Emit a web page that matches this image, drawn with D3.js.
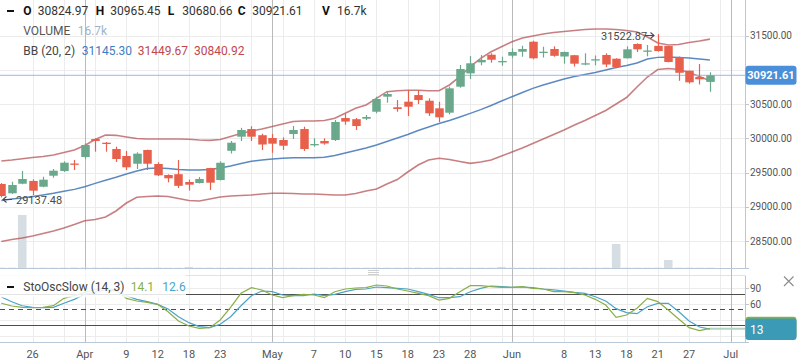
<!DOCTYPE html>
<html>
<head>
<meta charset="utf-8">
<script src="https://cdn.jsdelivr.net/npm/d3@7"></script>
<style>
body { margin: 0; background: #fff; }
svg { display: block; font-family: Roboto, "Open Sans", sans-serif; }
</style>
</head>
<body>
<svg width="798" height="363"></svg>
<script>
const dates = ["2017-03-22","2017-03-23","2017-03-24","2017-03-27","2017-03-28","2017-03-29","2017-03-30","2017-03-31",
  "2017-04-03","2017-04-05","2017-04-06","2017-04-07","2017-04-10","2017-04-11","2017-04-12","2017-04-13","2017-04-17",
  "2017-04-18","2017-04-19","2017-04-20","2017-04-21","2017-04-24","2017-04-25","2017-04-26","2017-04-27","2017-04-28",
  "2017-05-02","2017-05-03","2017-05-04","2017-05-05","2017-05-08","2017-05-09","2017-05-10","2017-05-11","2017-05-12",
  "2017-05-15","2017-05-16","2017-05-17","2017-05-18","2017-05-19","2017-05-22","2017-05-23","2017-05-24","2017-05-25",
  "2017-05-26","2017-05-29","2017-05-30","2017-05-31","2017-06-01","2017-06-02","2017-06-05","2017-06-06","2017-06-07",
  "2017-06-08","2017-06-09","2017-06-12","2017-06-13","2017-06-14","2017-06-15","2017-06-16","2017-06-19","2017-06-20",
  "2017-06-21","2017-06-22","2017-06-23","2017-06-27","2017-06-28","2017-06-29","2017-06-30"]
const futureDates = ["2017-07-01", "2017-07-03"]

const open = [29333,29197,29337,29377,29293,29454,29523,29632,29727,29990,
  29936,29844,29742,29629,29830,29625,29464,29476,29362,29347,
  29566,29391,29818,30024,30136,30046,30005,29976,30063,30136,
  29907,29961,29976,30297,30280,30287,30389,30609,30454,30536,
  30633,30550,30439,30375,30755,30950,31111,31222,31120,31208,
  31266,31412,31257,31306,31196,31215,31091,31150,31218,31164,
  31170,31379,31278,31352,31349,31184,30989,30896,30824.97]
const high = [29345,29366,29523,29401,29439,29552,29664,29683,29927,30001,
  29947,29878,29815,29796,29835,29650,29474,29683,29398,29435,
  29570,29664,29961,30154,30177,30068,30063,30015,30180,30170,
  30001,30001,30268,30356,30297,30341,30609,30682,30560,30706,
  30706,30585,30535,30755,31072,31203,31218,31243,31193,31316,
  31354,31427,31339,31345,31269,31220,31243,31211,31243,31170,
  31345,31389,31364,31522.87,31352,31196,30990,31086,30965.45]
const low = [29137.48,29187,29330,29172,29285,29425,29508,29537,29694,29805,
  29805,29654,29537,29552,29537,29450,29357,29274,29238,29340,
  29245,29385,29778,29961,29961,29830,29790,29830,29990,29815,
  29878,29907,29961,30199,30122,30268,30366,30521,30389,30327,
  30502,30327,30239,30351,30740,30867,31067,31105,31062,31178,
  31193,31155,31181,31193,31091,31050,31069,31067,31043,31025,
  31167,31262,31199,31266,31111,30841,30801,30787,30680.66]
const close = [29157,29318,29406,29235,29396,29527,29644,29618,29903,29961,
  29927,29698,29577,29776,29629,29460,29416,29306,29323,29406,
  29352,29643,29936,30122,30024,29910,29922,29892,30122,29844,
  29917,29925,30239,30245,30180,30312,30575,30648,30429,30462,
  30560,30366,30307,30731,31013,31097,31145,31149,31130,31262,
  31306,31170,31266,31206,31262,31091,31097,31156,31079,31043,
  31301,31301,31284,31276,31116,30958,30819,30863,30921.61]
// volume in thousands
const volume = [18,20,2650,15,17,16,19,21,18,17,
  16,15,18,17,16,19,15,14,55,17,
  18,16,17,19,18,16,17,15,18,16,
  17,18,19,16,15,17,18,19,16,17,
  18,16,17,19,18,16,17,18,55,17,
  16,18,17,15,16,18,17,16,19,1200,
  18,17,16,19,400,17,18,16,16.7]

const bbUpper = [29669,29683,29702,29720,29735,29756,29793,29830,29895,29983,
  30049,30044,30020,29998,29990,29990,29990,29990,29986,29976,
  29971,29983,30027,30071,30107,30137,30173,30210,30246,30253,
  30253,30261,30293,30366,30439,30487,30585,30682,30696,30702,
  30702,30696,30696,30780,30901,31047,31170,31266,31339,31412,
  31466,31496,31525,31547,31561,31576,31591,31598,31598,31591,
  31576,31554,31481,31393,31364,31371,31401,31423,31449.67]
const bbMid = [29092,29114,29128,29150,29172,29197,29226,29255,29293,29343,
  29387,29431,29479,29523,29559,29567,29559,29545,29537,29537,
  29545,29567,29596,29632,29665,29683,29698,29708,29717,29717,
  29717,29723,29749,29786,29822,29859,29903,29954,30005,30056,
  30115,30166,30217,30261,30312,30366,30421,30480,30546,30608,
  30670,30731,30780,30823,30867,30904,30933,30962,30999,31035,
  31064,31101,31159,31184,31189,31184,31174,31160,31145.30]
const bbLower = [28492,28522,28544,28573,28609,28646,28690,28741,28796,28814,
  28850,28938,29055,29138,29150,29157,29150,29121,29092,29084,
  29114,29143,29157,29165,29172,29187,29197,29197,29194,29187,
  29187,29179,29172,29172,29194,29230,29260,29333,29398,29508,
  29610,29683,29708,29691,29662,29635,29654,29683,29742,29800,
  29859,29925,29990,30056,30122,30195,30261,30334,30407,30502,
  30597,30750,30896,31006,31021,31006,30962,30904,30840.92]

const stochK = [61.7,56.5,54,53.3,54,57.1,71.1,76.1,82.5,88.2,
  89.4,87,71.1,66,63.5,59.7,45.7,28.1,18.6,14.2,
  15.4,30,54,80.6,91.3,87,77.4,72.3,76.1,78.7,
  77.4,72.3,83.7,88.8,90.7,91.3,96.4,94.5,88.8,85,
  80.6,76.1,67.9,71.1,83.7,95.1,95.1,93.2,92,92,
  93.2,90,88.8,83.7,83.7,81.8,77.4,69.2,58.4,35.1,
  39.5,52.2,71.1,64.8,49,31.9,15.4,9.7,14.1]
const stochD = [73.6,64.7,57,54,53.3,54,61.7,69.2,78.7,82.5,
  87,85,76.1,69.2,64.7,59.7,50.8,36.1,24.9,17.3,
  15.4,21.8,36.1,57,76.1,85,83.7,77.4,76.1,76.1,
  79.3,76.1,78.7,83.7,88.2,88.8,92.6,91.3,90,88.8,
  83.7,78.7,72.3,72.3,74.2,83.7,90,94.5,93.2,92,
  92.6,91.3,88.8,87,85,82.5,80.6,74.2,66,51.5,
  44,42,55.2,61.6,61.6,46,28.1,16.7,12.6]

const priceTicks = [28500, 29000, 29500, 30000, 30500, 31000, 31500]
const stochTicks = [0, 30, 60, 90]
const stochLevels = [20, 50, 80]
const xTickDates = ["2017-03-27","2017-04-03","2017-04-10","2017-04-13","2017-04-19","2017-04-24","2017-05-02",
  "2017-05-08","2017-05-11","2017-05-16","2017-05-19","2017-05-24","2017-05-29","2017-06-02","2017-06-09",
  "2017-06-14","2017-06-19","2017-06-22","2017-06-28","2017-07-03"]
const xTickLabels = ["26","Apr","9","12","18","23","May","7","10","15","18","23","28","Jun","8","13","18","21","27","Jul"]
const monthDates = ["2017-04-03","2017-05-02","2017-06-02","2017-07-03"]


let svg = d3.select("svg")
let plotR = 745
let mainB = 268
let stTop = 275.5
let stB = 342

svg.append("rect").attr("width", 798).attr("height", 363).attr("fill", "#fff")

let allDates = dates.concat(futureDates)
let x = d3.scalePoint().domain(allDates).range([1.35, 730.75])
let y = d3.scaleLinear().domain([28105, 32022]).range([mainB, 0])
let ys = d3.scaleLinear().domain([0, 100]).range([335.8, 283.1])
let yv = d3.scaleLinear().domain([0, 3350]).range([0, 67])

let lastClose = close[close.length - 1]
let lastD = stochD[stochD.length - 1]

let defs = svg.append("defs")
defs.append("clipPath").attr("id", "clipMain").append("rect")
  .attr("x", 0).attr("y", 0).attr("width", plotR).attr("height", mainB)
defs.append("clipPath").attr("id", "clipSt").append("rect")
  .attr("x", 0).attr("y", stTop).attr("width", plotR).attr("height", stB - stTop)

// grid
let gridDates = allDates.filter((d, i) => i > 0 && i % 3 == 0)
svg.append("g").selectAll("line")
  .data(gridDates)
  .join("line")
  .attr("x1", d => Math.round(x(d)) + 0.5).attr("x2", d => Math.round(x(d)) + 0.5)
  .attr("y1", 0).attr("y2", stB)
  .attr("stroke", "#ececec")

svg.append("g").selectAll("line")
  .data(priceTicks)
  .join("line")
  .attr("x1", 0).attr("x2", plotR)
  .attr("y1", d => Math.round(y(d)) + 0.5).attr("y2", d => Math.round(y(d)) + 0.5)
  .attr("stroke", "#ececec")

svg.append("g").selectAll("line")
  .data(stochTicks)
  .join("line")
  .attr("x1", 0).attr("x2", plotR)
  .attr("y1", d => Math.round(ys(d)) + 0.5).attr("y2", d => Math.round(ys(d)) + 0.5)
  .attr("stroke", "#ececec")

svg.append("line")
  .attr("x1", 0).attr("x2", plotR).attr("y1", stTop).attr("y2", stTop)
  .attr("stroke", "#e2e2e2")

svg.append("g").selectAll("line")
  .data(monthDates)
  .join("line")
  .attr("x1", d => Math.round(x(d)) + 0.5).attr("x2", d => Math.round(x(d)) + 0.5)
  .attr("y1", 0).attr("y2", stB)
  .attr("stroke", "#b9b9b9")

// volume
let main = svg.append("g").attr("clip-path", "url(#clipMain)")
main.selectAll("rect.vol")
  .data(dates)
  .join("rect")
  .attr("class", "vol")
  .attr("x", d => x(d) - 4.3)
  .attr("width", 8.6)
  .attr("y", (d, i) => mainB - yv(volume[i]))
  .attr("height", (d, i) => yv(volume[i]))
  .attr("fill", "#d6dde3")

// bollinger
let line = (arr) => d3.line().x((d, i) => x(dates[i])).y(d => y(d))(arr)
main.append("path").attr("d", line(bbUpper)).attr("fill", "none")
  .attr("stroke", "#b0484c").attr("stroke-width", 1.6).attr("opacity", 0.7)
main.append("path").attr("d", line(bbLower)).attr("fill", "none")
  .attr("stroke", "#b0484c").attr("stroke-width", 1.6).attr("opacity", 0.7)
main.append("path").attr("d", line(bbMid)).attr("fill", "none")
  .attr("stroke", "#3f74b5").attr("stroke-width", 1.4).attr("opacity", 0.85)

// last price line
main.append("line")
  .attr("x1", 0).attr("x2", plotR)
  .attr("y1", y(lastClose)).attr("y2", y(lastClose))
  .attr("stroke", "#9db8e2").attr("stroke-width", 1)

// candles
let candles = dates.map((d, i) => ({ date: d, o: open[i], h: high[i], l: low[i], c: close[i] }))
let col = (d) => d.c >= d.o ? "#6aa88b" : "#e8604c"

main.selectAll("line.wick")
  .data(candles)
  .join("line")
  .attr("class", "wick")
  .attr("x1", d => Math.round(x(d.date)) + 0.5).attr("x2", d => Math.round(x(d.date)) + 0.5)
  .attr("y1", d => y(d.h)).attr("y2", d => y(d.l))
  .attr("stroke", col).attr("stroke-width", 1.2)

main.selectAll("rect.body")
  .data(candles)
  .join("rect")
  .attr("class", "body")
  .attr("x", d => Math.round(x(d.date)) + 0.5 - 4.25)
  .attr("width", 8.5)
  .attr("y", d => y(Math.max(d.o, d.c)))
  .attr("height", d => Math.max(1.3, Math.abs(y(d.o) - y(d.c))))
  .attr("fill", col)

// hi/lo markers
let hiY = 35.5
svg.append("text")
  .attr("x", 601).attr("y", hiY + 4)
  .attr("font-size", "11px").attr("fill", "#4a4a4a")
  .text(d3.format(".2f")(d3.max(high)))
svg.append("path")
  .attr("d", "M645," + hiY + "H654M650.5," + (hiY - 3) + "L654," + hiY + "L650.5," + (hiY + 3))
  .attr("fill", "none").attr("stroke", "#4a4a4a").attr("stroke-width", 1.1)

let loY = 199.5
svg.append("text")
  .attr("x", 16).attr("y", loY + 4)
  .attr("font-size", "11px").attr("fill", "#4a4a4a")
  .text(d3.format(".2f")(d3.min(low)))
svg.append("path")
  .attr("d", "M12," + loY + "H3M6.5," + (loY - 3) + "L3," + loY + "L6.5," + (loY + 3))
  .attr("fill", "none").attr("stroke", "#4a4a4a").attr("stroke-width", 1.1)

// stochastics
let st = svg.append("g").attr("clip-path", "url(#clipSt)")
st.selectAll("line.lvl")
  .data(stochLevels)
  .join("line")
  .attr("class", "lvl")
  .attr("x1", 0).attr("x2", plotR)
  .attr("y1", d => Math.round(ys(d)) + 0.5).attr("y2", d => Math.round(ys(d)) + 0.5)
  .attr("stroke", "#4d4d4d")
  .attr("stroke-dasharray", d => d == 50 ? "5,4" : null)

let sline = (arr) => d3.line().x((d, i) => x(dates[i])).y(d => ys(d))(arr)
let lastX = x(dates[dates.length - 1])
st.append("line").attr("x1", lastX).attr("x2", plotR)
  .attr("y1", ys(stochK[stochK.length - 1])).attr("y2", ys(stochK[stochK.length - 1]))
  .attr("stroke", "#b9d49a").attr("stroke-width", 1.2)
st.append("line").attr("x1", lastX).attr("x2", plotR)
  .attr("y1", ys(lastD)).attr("y2", ys(lastD))
  .attr("stroke", "#a8d6e4").attr("stroke-width", 1.2)
st.append("path").attr("d", sline(stochD)).attr("fill", "none")
  .attr("stroke", "#4aa5c9").attr("stroke-width", 1.2)
st.append("path").attr("d", sline(stochK)).attr("fill", "none")
  .attr("stroke", "#8aae48").attr("stroke-width", 1.2)

// stoch legend background
svg.append("rect").attr("x", 0).attr("y", 269.5).attr("width", 186).attr("height", 28).attr("fill", "#fff").attr("opacity", 0.85)

// panel borders
svg.append("line").attr("x1", 0).attr("x2", plotR + 4).attr("y1", mainB + 0.5).attr("y2", mainB + 0.5).attr("stroke", "#b8c8d6")
svg.append("line").attr("x1", 0).attr("x2", plotR + 4).attr("y1", stB + 0.5).attr("y2", stB + 0.5).attr("stroke", "#b8c8d6")
svg.append("line").attr("x1", plotR + 0.5).attr("x2", plotR + 0.5).attr("y1", 0).attr("y2", mainB).attr("stroke", "#b8c8d6")
svg.append("line").attr("x1", plotR + 0.5).attr("x2", plotR + 0.5).attr("y1", stTop).attr("y2", stB).attr("stroke", "#b8c8d6")

// drag handle
svg.append("g").selectAll("line")
  .data([270, 272, 274])
  .join("line")
  .attr("x1", 368).attr("x2", 379).attr("y1", d => d + 0.5).attr("y2", d => d + 0.5)
  .attr("stroke", "#cfcfcf")

// right axes (labels under the value flags are hidden, as in the original)
let flagTop = y(lastClose) - 9.5
let yAxis = svg.append("g")
yAxis.selectAll("line")
  .data(priceTicks)
  .join("line")
  .attr("x1", plotR).attr("x2", plotR + 4)
  .attr("y1", d => Math.round(y(d)) + 0.5).attr("y2", d => Math.round(y(d)) + 0.5)
  .attr("stroke", "#b8c8d6")
yAxis.selectAll("text")
  .data(priceTicks.filter(d => Math.abs(y(d) - y(lastClose)) > 14))
  .join("text")
  .attr("x", plotR + 5)
  .attr("y", d => y(d) + 3.6)
  .attr("font-size", "10px").attr("fill", "#555")
  .text(d3.format(".2f"))

let sAxis = svg.append("g")
sAxis.selectAll("line")
  .data(stochTicks.filter(d => d > 0))
  .join("line")
  .attr("x1", plotR).attr("x2", plotR + 4)
  .attr("y1", d => Math.round(ys(d)) + 0.5).attr("y2", d => Math.round(ys(d)) + 0.5)
  .attr("stroke", "#b8c8d6")
sAxis.selectAll("text")
  .data(stochTicks.filter(d => d > 0 && Math.abs(ys(d) - ys(lastD)) > 12))
  .join("text")
  .attr("x", plotR + 5)
  .attr("y", d => ys(d) + 3.6)
  .attr("font-size", "10px").attr("fill", "#555")
  .text(d => d)

// value flags
svg.append("rect").attr("x", 745.5).attr("y", flagTop).attr("width", 51).attr("height", 19).attr("rx", 3).attr("fill", "#4a8fd8")
svg.append("text").attr("x", 771).attr("y", flagTop + 13.5).attr("text-anchor", "middle")
  .attr("font-size", "11px").attr("font-weight", "bold").attr("fill", "#fff")
  .text(d3.format(".2f")(lastClose))

svg.append("rect").attr("x", 745.5).attr("y", 316.8).attr("width", 51).attr("height", 21.5).attr("rx", 3).attr("fill", "#8aae48")
svg.append("rect").attr("x", 745.5).attr("y", 318.5).attr("width", 51).attr("height", 21.5).attr("rx", 3).attr("fill", "#3b9ab6")
svg.append("text").attr("x", 750).attr("y", 333.5)
  .attr("font-size", "12px").attr("fill", "#fff")
  .text(d3.format(".0f")(lastD))

// close button
svg.append("path").attr("d", "M784,276.5L793.5,286M793.5,276.5L784,286").attr("stroke", "#8a8a8a").attr("stroke-width", 1.1)

// x axis labels
svg.append("g").selectAll("text")
  .data(xTickDates)
  .join("text")
  .attr("x", d => x(d))
  .attr("y", 358)
  .attr("text-anchor", "middle")
  .attr("font-size", "11px").attr("fill", "#555")
  .text((d, i) => xTickLabels[i])

// legends
let leg = svg.append("g").attr("font-size", "12px")
leg.append("rect").attr("x", 7).attr("y", 10).attr("width", 7).attr("height", 2).attr("fill", "#111")
let row1 = [["O", 23.3, open], ["H", 95.7, high], ["L", 167.7, low], ["C", 237.7, close]]
row1.forEach(r => {
  leg.append("text").attr("x", r[1]).attr("y", 15.3).attr("font-weight", "bold").attr("fill", "#111").text(r[0])
  leg.append("text").attr("x", r[1] + 14.5).attr("y", 15.3).attr("fill", "#333").text(d3.format(".2f")(r[2][r[2].length - 1]))
})
leg.append("text").attr("x", 322).attr("y", 15.3).attr("font-weight", "bold").attr("fill", "#111").text("V")
leg.append("text").attr("x", 337).attr("y", 15.3).attr("fill", "#333").text(volume[volume.length - 1] + "k")

leg.append("text").attr("x", 23.3).attr("y", 35.3).attr("fill", "#555").text("VOLUME")
leg.append("text").attr("x", 77.7).attr("y", 35.3).attr("fill", "#9fb4c8").text(volume[volume.length - 1] + "k")

leg.append("text").attr("x", 23.3).attr("y", 55.3).attr("fill", "#444").text("BB (20, 2)")
leg.append("text").attr("x", 81.7).attr("y", 55.3).attr("fill", "#3d7cc2").text(d3.format(".2f")(bbMid[bbMid.length - 1]))
leg.append("text").attr("x", 137.7).attr("y", 55.3).attr("fill", "#c2474b").text(d3.format(".2f")(bbUpper[bbUpper.length - 1]))
leg.append("text").attr("x", 194).attr("y", 55.3).attr("fill", "#c2474b").text(d3.format(".2f")(bbLower[bbLower.length - 1]))

leg.append("rect").attr("x", 7).attr("y", 286).attr("width", 7).attr("height", 2).attr("fill", "#111")
leg.append("text").attr("x", 23.3).attr("y", 291.3).attr("fill", "#444").text("StoOscSlow (14, 3)")
leg.append("text").attr("x", 130.7).attr("y", 291.3).attr("fill", "#8aae48").text(d3.format(".1f")(stochK[stochK.length - 1]))
leg.append("text").attr("x", 162.3).attr("y", 291.3).attr("fill", "#4aa5c9").text(d3.format(".1f")(lastD))
</script>
</body>
</html>
